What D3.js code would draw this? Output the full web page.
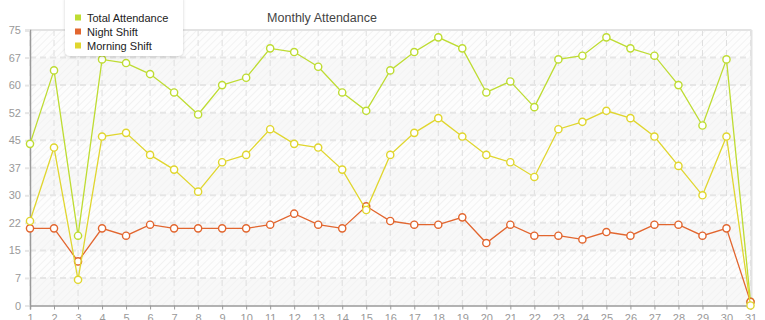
<!DOCTYPE html>
<html><head><meta charset="utf-8">
<script src="https://cdn.jsdelivr.net/npm/d3@7"></script>
<style>html,body{margin:0;padding:0;background:#fff;overflow:hidden}svg{display:block}</style>
</head><body>
<svg id="c" width="765" height="320"></svg>
<script>
const days = d3.range(1, 32);
const totalAttendance = [44,64,19,67,66,63,58,52,60,62,70,69,65,58,53,64,69,73,70,58,61,54,67,68,73,70,68,60,49,67,1];
const nightShift = [21,21,12,21,19,22,21,21,21,21,22,25,22,21,27,23,22,22,24,17,22,19,19,18,20,19,22,22,19,21,1];
const morningShift = [23,43,7,46,47,41,37,31,39,41,48,44,43,37,26,41,47,51,46,41,39,35,48,50,53,51,46,38,30,46,0];
const yTicks = [0,7.5,15,22.5,30,37.5,45,52.5,60,67.5,75];
const seriesNames = ["Total Attendance","Night Shift","Morning Shift"];
const seriesColors = ["#bedc32","#e2662f","#e0d62e"];
const title = "Monthly Attendance";

const series = [totalAttendance, nightShift, morningShift].map((v,i)=>({name:seriesNames[i], color:seriesColors[i], values:v}));

const svg = d3.select("#c");
const L=30, R=750.5, T=30, B=305.5;
const x = d3.scaleLinear().domain([1,31]).range([L,R]);
const y = d3.scaleLinear().domain([0,75]).range([B,T]);

const defs = svg.append("defs");
const pat = defs.append("pattern").attr("id","hatch").attr("patternUnits","userSpaceOnUse").attr("width",5).attr("height",5).attr("patternTransform","rotate(45)");
pat.append("rect").attr("width",5).attr("height",5).attr("fill","#fdfdfd");
pat.append("line").attr("x1",0).attr("y1",0).attr("x2",0).attr("y2",5).attr("stroke","#ececec").attr("stroke-width",1.2);
const pat2 = defs.append("pattern").attr("id","hatch2").attr("patternUnits","userSpaceOnUse").attr("width",5).attr("height",5).attr("patternTransform","rotate(45)");
pat2.append("rect").attr("width",5).attr("height",5).attr("fill","#f8f8f8");
pat2.append("line").attr("x1",0).attr("y1",0).attr("x2",0).attr("y2",5).attr("stroke","#f1f1f1").attr("stroke-width",1.2);
const sh = defs.append("filter").attr("id","shadow").attr("x","-20%").attr("y","-20%").attr("width","140%").attr("height","150%");
sh.append("feDropShadow").attr("dx",0).attr("dy",1).attr("stdDeviation",1.5).attr("flood-color","#000").attr("flood-opacity",0.18);

// bands
const bands = d3.pairs(yTicks);
svg.append("g").selectAll("rect").data(bands).join("rect")
  .attr("x",L).attr("width",R-L)
  .attr("y",d=>y(d[1])).attr("height",d=>y(d[0])-y(d[1]))
  .attr("fill",(d,i)=> (bands.length-1-i)%2===0 ? "url(#hatch)" : "url(#hatch2)");

// grid
svg.append("g").selectAll("line").data(days).join("line")
  .attr("x1",d=>x(d)).attr("x2",d=>x(d)).attr("y1",T).attr("y2",B)
  .attr("stroke","#dedede").attr("stroke-width",1).attr("stroke-dasharray","6,4");
svg.append("g").selectAll("line").data(yTicks.slice(1,-1)).join("line")
  .attr("x1",L).attr("x2",R).attr("y1",d=>y(d)).attr("y2",d=>y(d))
  .attr("stroke","#e6e6e6").attr("stroke-width",2).attr("stroke-dasharray","6,4");

// borders
svg.append("line").attr("x1",L).attr("x2",R+1).attr("y1",T).attr("y2",T).attr("stroke","#e3e3e3").attr("stroke-width",2);
svg.append("line").attr("x1",R+1).attr("x2",R+1).attr("y1",T).attr("y2",B).attr("stroke","#e3e3e3").attr("stroke-width",2);

// axes
const yAxis = d3.axisLeft(y).tickValues(yTicks).tickFormat(d=>Math.floor(d)).tickSize(5).tickPadding(4);
const gy = svg.append("g").attr("transform",`translate(${L},0)`).call(yAxis);
const xAxis = d3.axisBottom(x).tickValues(days).tickFormat(d3.format("d")).tickSize(4).tickPadding(5);
const gx = svg.append("g").attr("transform",`translate(0,${B})`).call(xAxis);
[gx,gy].forEach(g=>{
  g.select(".domain").attr("stroke","#9a9a9a").attr("stroke-width",1.5);
  g.selectAll(".tick line").attr("stroke","#9a9a9a");
  g.selectAll("text").attr("fill","#999").attr("font-family","Liberation Sans, Arial, sans-serif").attr("font-size",11);
});
gy.selectAll(".tick line").attr("stroke","#e6e6e6").attr("stroke-width",2);

// lines and markers
const line = d3.line().x((d,i)=>x(days[i])).y(d=>y(d));
const sg = svg.append("g").selectAll("g").data(series).join("g");
sg.append("path").attr("d",d=>line(d.values)).attr("fill","none").attr("stroke",d=>d.color).attr("stroke-width",1.3);
sg.each(function(s){
  d3.select(this).selectAll("circle").data(s.values).join("circle")
    .attr("cx",(d,i)=>x(days[i])).attr("cy",d=>y(d)).attr("r",3.6)
    .attr("fill","#fff").attr("stroke",s.color).attr("stroke-width",1.4);
});

// title
svg.append("text").attr("x",322).attr("y",22).attr("text-anchor","middle")
  .attr("font-family","Liberation Sans, Arial, sans-serif").attr("font-size",12.5).attr("fill","#444").text(title);

// legend
const lg = svg.append("g");
lg.append("rect").attr("x",65).attr("y",-6).attr("width",118).attr("height",62).attr("rx",5)
  .attr("fill","#fff").attr("filter","url(#shadow)");
const li = lg.selectAll("g").data(series).join("g").attr("transform",(d,i)=>`translate(75,${17.5+i*14})`);
li.append("rect").attr("x",0).attr("y",-3).attr("width",6).attr("height",6).attr("fill",d=>d.color);
li.append("text").attr("x",12).attr("y",4).attr("font-family","Liberation Sans, Arial, sans-serif").attr("font-size",11).attr("fill","#222").text(d=>d.name);
</script>
</body></html>
